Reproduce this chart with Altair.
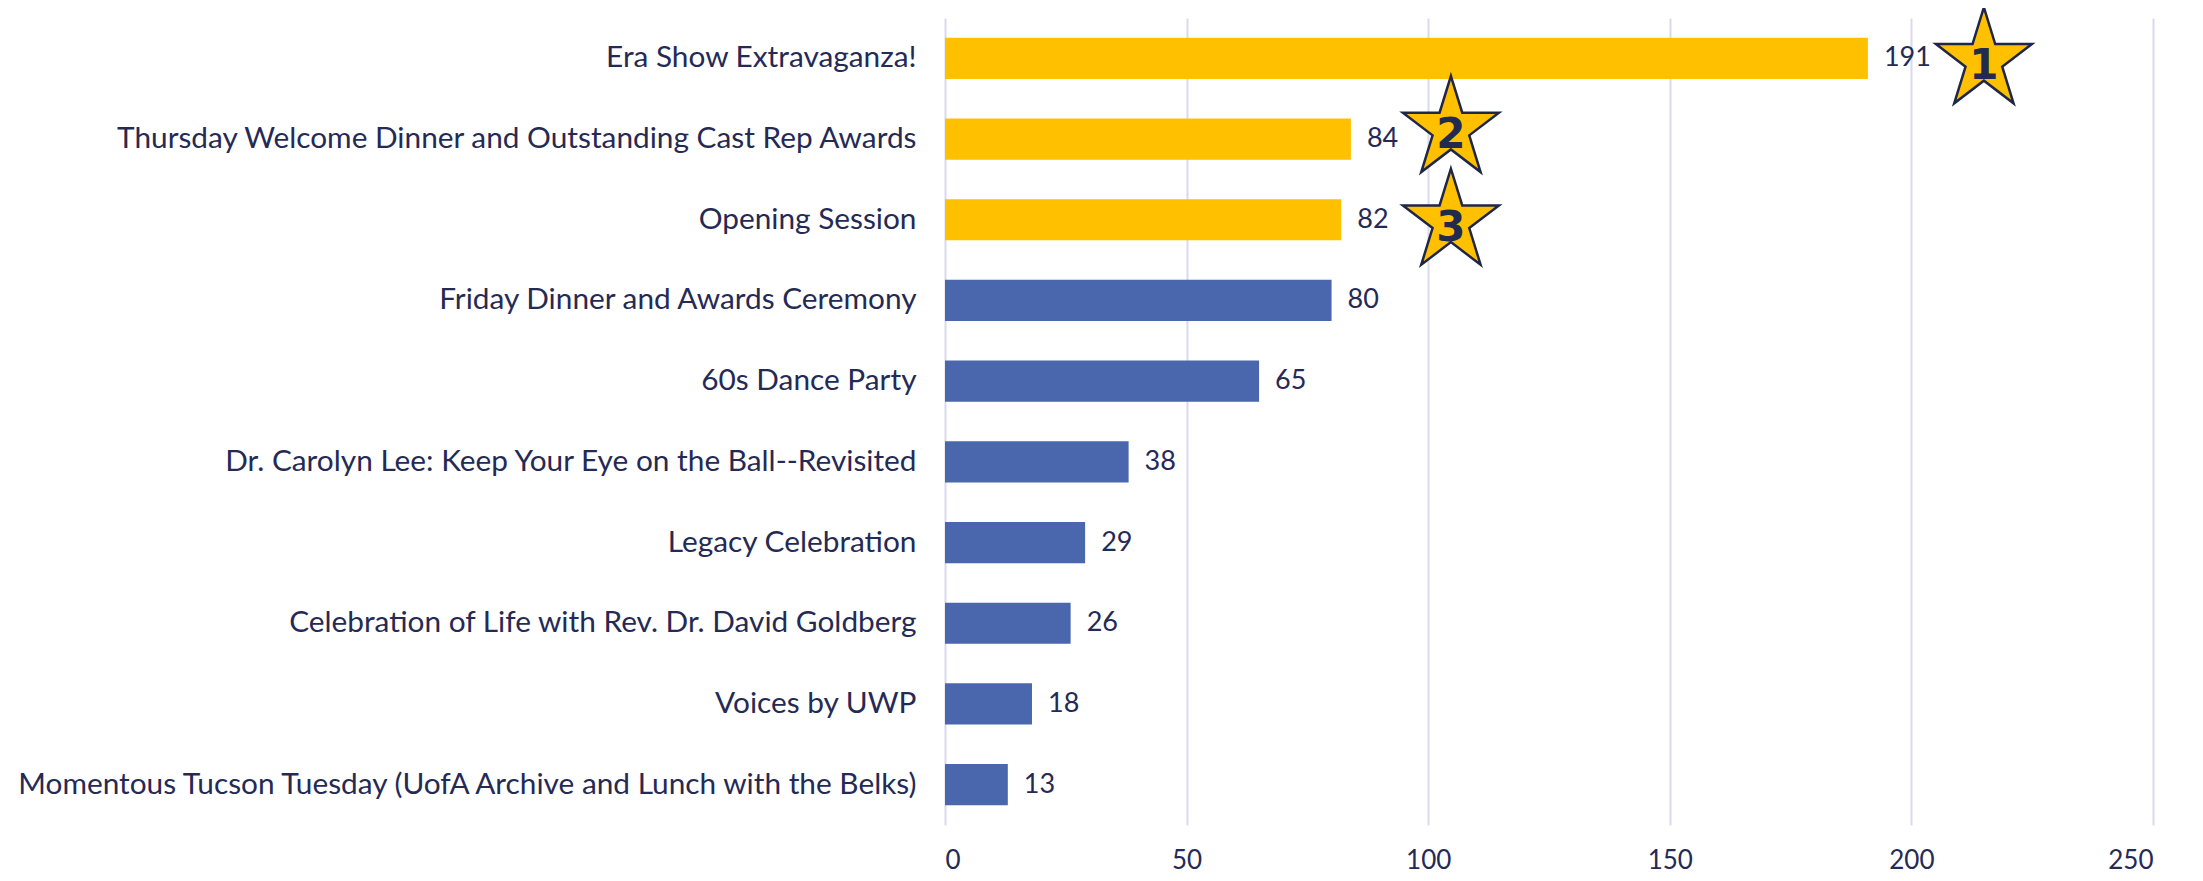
import altair as alt
import pandas as pd

categories = [
    "Era Show Extravaganza!",
    "Thursday Welcome Dinner and Outstanding Cast Rep Awards",
    "Opening Session",
    "Friday Dinner and Awards Ceremony",
    "60s Dance Party",
    "Dr. Carolyn Lee: Keep Your Eye on the Ball--Revisited",
    "Legacy Celebration",
    "Celebration of Life with Rev. Dr. David Goldberg",
    "Voices by UWP",
    "Momentous Tucson Tuesday (UofA Archive and Lunch with the Belks)",
]
values = [191, 84, 82, 80, 65, 38, 29, 26, 18, 13]
x_ticks = [0, 50, 100, 150, 200, 250]

# star annotations for the top three
star_labels = ["1", "2", "3"]
star_x = [215, 104.7, 104.7]
star_dy = [-3, -15, -3]

TXT = "#252A55"
GOLD = "#FFC000"
BLUE = "#4A66AC"
GRID = "#D9DAEE"
FONT = "Lato"

df = pd.DataFrame({
    "event": categories,
    "count": values,
    "group": ["top" if i < 3 else "other" for i in range(len(values))],
})

STAR = ("M0,-1 L0.236,-0.236 L1,-0.236 L0.382,0.236 L0.618,1 L0,0.528 "
        "L-0.618,1 L-0.382,0.236 L-1,-0.236 L-0.236,-0.236 Z")

y = alt.Y(
    "event:N", sort=categories, title=None,
    scale=alt.Scale(domain=categories, paddingInner=0.49, paddingOuter=0.245),
    axis=alt.Axis(domain=False, ticks=False, tickSize=0, grid=False,
                  labelFont=FONT, labelFontSize=29.8, labelColor=TXT,
                  labelPadding=29, labelLimit=2000),
)
x = alt.X(
    "count:Q", title=None,
    scale=alt.Scale(domain=[0, 250], nice=False, zero=True),
    axis=alt.Axis(values=x_ticks, domain=False, ticks=False, tickSize=0,
                  grid=True, gridColor=GRID, gridWidth=2,
                  labelFont=FONT, labelFontSize=26, labelColor=TXT,
                  labelPadding=22),
)

bars = alt.Chart(df).mark_bar().encode(
    y=y, x=x,
    color=alt.Color("group:N", scale=alt.Scale(domain=["top", "other"], range=[GOLD, BLUE]), legend=None),
)
labels = alt.Chart(df).mark_text(
    align="left", baseline="middle", dx=16, font=FONT, fontSize=27, color=TXT
).encode(y=y, x=x, text="count:Q")

layers = [bars, labels]
for lab, cat, sx, dy in zip(star_labels, categories[:3], star_x, star_dy):
    sdf = pd.DataFrame({"event": [cat], "count": [sx], "rank": [lab]})
    layers.append(
        alt.Chart(sdf).mark_point(
            shape=STAR, size=9216, filled=True, fill=GOLD, stroke="#1F2748",
            strokeWidth=2.5, opacity=1, yOffset=dy
        ).encode(y=y, x=x)
    )
    layers.append(
        alt.Chart(sdf).mark_text(
            align="center", baseline="alphabetic", dy=dy + 24,
            font="DejaVu Sans", fontWeight="bold", fontSize=42, color="#232A50"
        ).encode(y=y, x=x, text="rank:N")
    )

chart = alt.layer(*layers).properties(
    width=1208, height=807,
    autosize=alt.AutoSizeParams(type="none"),
    padding={"left": 937, "top": 10, "right": 10, "bottom": 48},
).configure_view(stroke=None)

chart.save("out.html", embed_options={"renderer": "svg", "actions": False})
